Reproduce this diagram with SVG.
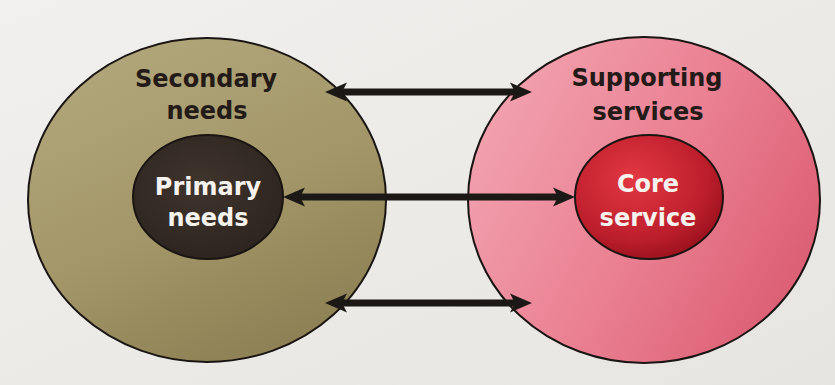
<svg xmlns="http://www.w3.org/2000/svg" width="835" height="385" viewBox="0 0 835 385">
  <defs>
    <linearGradient id="bg" x1="0" y1="0" x2="1" y2="1">
      <stop offset="0" stop-color="#f1f0ee"/>
      <stop offset="1" stop-color="#e6e5e1"/>
    </linearGradient>
    <linearGradient id="olive" x1="0.2" y1="0" x2="0.7" y2="1">
      <stop offset="0" stop-color="#b2a77c"/>
      <stop offset="0.55" stop-color="#a39769"/>
      <stop offset="1" stop-color="#8b7f53"/>
    </linearGradient>
    <radialGradient id="dark" cx="0.45" cy="0.4" r="0.6">
      <stop offset="0" stop-color="#40352d"/>
      <stop offset="1" stop-color="#2e2520"/>
    </radialGradient>
    <linearGradient id="pink" x1="0" y1="0.3" x2="1" y2="0.8">
      <stop offset="0" stop-color="#f2a2af"/>
      <stop offset="0.5" stop-color="#ea8092"/>
      <stop offset="1" stop-color="#da5a70"/>
    </linearGradient>
    <radialGradient id="red" cx="0.4" cy="0.35" r="0.7">
      <stop offset="0" stop-color="#e23842"/>
      <stop offset="0.7" stop-color="#bd1e2c"/>
      <stop offset="1" stop-color="#98101c"/>
    </radialGradient>
    <marker id="ah" markerUnits="userSpaceOnUse" markerWidth="26" markerHeight="22" viewBox="0 0 26 22" refX="6" refY="11" orient="auto-start-reverse">
      <path d="M0,1.5 L22,11 L0,20.5 L5,11 Z" fill="#1c1815"/>
    </marker>
    <style>
      .outer { stroke: #1a1512; stroke-width: 2; }
      .inner { stroke: #1a1512; stroke-width: 2; }
      .lbl { font-family: "DejaVu Sans", Verdana, sans-serif; font-weight: bold; font-size: 24px; text-anchor: middle; }
      .dk { fill: #241a17; }
      .wt { fill: #f6f2ee; }
      .conn { stroke: #1c1815; stroke-width: 7; fill: none; marker-start: url(#ah); marker-end: url(#ah); }
    </style>
  </defs>

  <rect x="0" y="0" width="835" height="385" fill="url(#bg)"/>

  <g id="secondary-needs">
    <ellipse cx="207" cy="200" rx="179" ry="162" fill="url(#olive)" class="outer"/>
    <text class="lbl dk" x="206" y="87">Secondary</text>
    <text class="lbl dk" x="207" y="119">needs</text>
  </g>

  <g id="primary-needs">
    <ellipse cx="208" cy="197" rx="75" ry="62" fill="url(#dark)" class="inner"/>
    <text class="lbl wt" x="208" y="195">Primary</text>
    <text class="lbl wt" x="208" y="226">needs</text>
  </g>

  <g id="supporting-services">
    <ellipse cx="644" cy="200" rx="176" ry="163" fill="url(#pink)" class="outer"/>
    <text class="lbl dk" x="647" y="86">Supporting</text>
    <text class="lbl dk" x="648" y="120">services</text>
  </g>

  <g id="core-service">
    <ellipse cx="649" cy="197" rx="74" ry="62" fill="url(#red)" class="inner"/>
    <text class="lbl wt" x="648" y="192">Core</text>
    <text class="lbl wt" x="648" y="226">service</text>
  </g>

  <g id="connectors">
    <line class="conn" x1="341" y1="92" x2="516" y2="92"/>
    <line class="conn" x1="299" y1="197" x2="559" y2="197"/>
    <line class="conn" x1="341" y1="303" x2="516" y2="303"/>
  </g>
</svg>
